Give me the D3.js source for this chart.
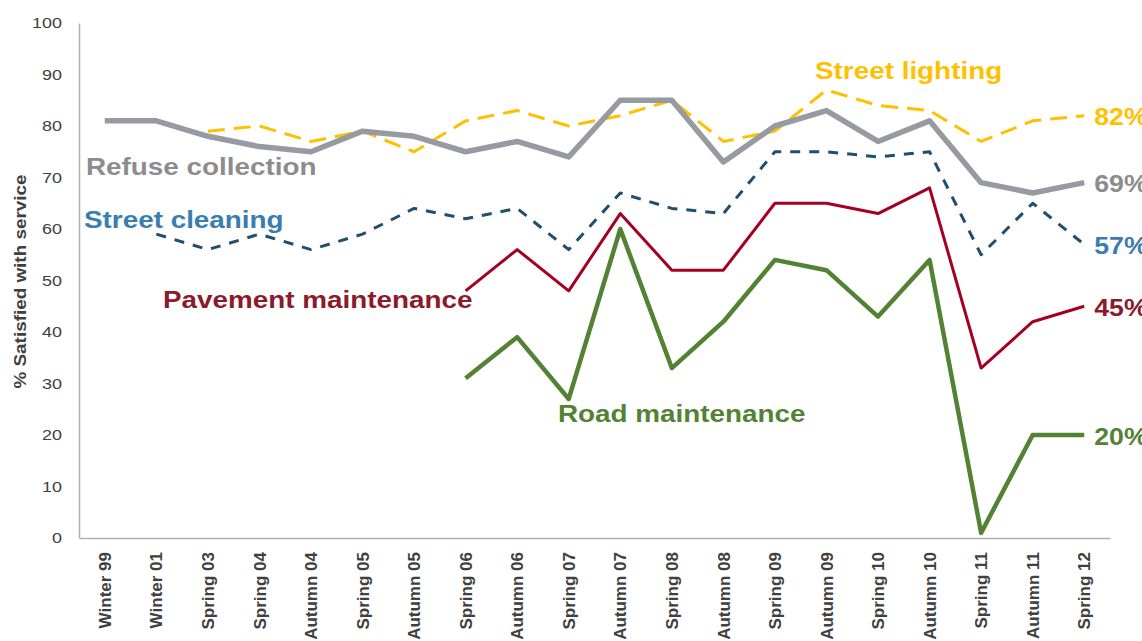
<!DOCTYPE html>
<html>
<head>
<meta charset="utf-8">
<script src="https://cdn.jsdelivr.net/npm/d3@7"></script>
<style>
  body { margin: 0; background: #fff; }
  text { font-family: "Liberation Sans", Arial, sans-serif; }
</style>
</head>
<body>
<div id="chart"></div>
<script>
// categories (survey waves)
const waves = ["Winter 99", "Winter 01", "Spring 03", "Spring 04", "Autumn 04", "Spring 05",
  "Autumn 05", "Spring 06", "Autumn 06", "Spring 07", "Autumn 07", "Spring 08", "Autumn 08",
  "Spring 09", "Autumn 09", "Spring 10", "Autumn 10", "Spring 11", "Autumn 11", "Spring 12"];

// series values, null = not asked
const refuseCollection = [81, 81, 78, 76, 75, 79, 78, 75, 77, 74, 85, 85, 73, 80, 83, 77, 81, 69, 67, 69];
const streetLighting = [null, null, 79, 80, 77, 79, 75, 81, 83, 80, 82, 85, 77, 79, 87, 84, 83, 77, 81, 82];
const streetCleaning = [null, 59, 56, 59, 56, 59, 64, 62, 64, 56, 67, 64, 63, 75, 75, 74, 75, 55, 65, 57];
const pavementMaintenance = [null, null, null, null, null, null, null, 48, 56, 48, 63, 52, 52, 65, 65, 63, 68, 33, 42, 45];
const roadMaintenance = [null, null, null, null, null, null, null, 31, 39, 27, 60, 33, 42, 54, 52, 43, 54, 1, 20, 20];

const yTicks = [0, 10, 20, 30, 40, 50, 60, 70, 80, 90, 100];

const series = [
  { name: "Refuse collection", values: refuseCollection, line: "#959ba1", label: "#8c8c8c", width: 5.5, dash: null, lx: 86, ly: 175 },
  { name: "Street lighting", values: streetLighting, line: "#ffc000", label: "#ffc000", width: 3, dash: "17,9", lx: 815, ly: 79 },
  { name: "Street cleaning", values: streetCleaning, line: "#1f4e6e", label: "#3a7db0", width: 3, dash: "10,9", lx: 84, ly: 228 },
  { name: "Pavement maintenance", values: pavementMaintenance, line: "#a50021", label: "#8b1a2b", width: 3, dash: null, lx: 163, ly: 308 },
  { name: "Road maintenance", values: roadMaintenance, line: "#548235", label: "#548235", width: 4.5, dash: null, lx: 558, ly: 422 }
];

const W = 1142, H = 641;
const margin = { top: 23, right: 32, bottom: 103, left: 79 };
const stretchX = 1.16; // horizontal text in the original is a bit wide

const svg = d3.select("#chart").append("svg")
  .attr("width", W)
  .attr("height", H);

// widen text horizontally to match the original
function widen(sel, k) {
  sel.each(function () {
    const len = this.getComputedTextLength();
    d3.select(this).attr("textLength", len * k).attr("lengthAdjust", "spacingAndGlyphs");
  });
}

const x = d3.scaleBand()
  .domain(waves)
  .range([margin.left, W - margin.right]);

const y = d3.scaleLinear()
  .domain([0, 100])
  .range([H - margin.bottom, margin.top]);

// Y axis
const yAxis = svg.append("g")
  .attr("transform", `translate(${margin.left},0)`)
  .call(d3.axisLeft(y).tickValues(yTicks).tickSize(0).tickPadding(17));
yAxis.select(".domain").attr("stroke", "#b0b0b0").attr("stroke-width", 1.5);
yAxis.selectAll("text")
  .attr("font-size", 15.5)
  .attr("fill", "#404040")
  .style("font-family", "Liberation Sans, Arial, sans-serif")
  .call(widen, stretchX);

// X axis
const xAxis = svg.append("g")
  .attr("transform", `translate(0,${H - margin.bottom})`)
  .call(d3.axisBottom(x).tickSize(0).tickPadding(0));
xAxis.select(".domain").attr("stroke", "#b0b0b0").attr("stroke-width", 1.5);
xAxis.selectAll("text")
  .attr("font-size", 17)
  .attr("font-weight", "bold")
  .attr("fill", "#404040")
  .attr("text-anchor", "end")
  .attr("dy", "0.36em")
  .attr("transform", "translate(0,14) rotate(-90)")
  .attr("x", 0)
  .attr("y", 0)
  .style("font-family", "Liberation Sans, Arial, sans-serif");

// Y axis title
svg.append("text")
  .attr("transform", `translate(26,${(margin.top + H - margin.bottom) / 2 + 1}) rotate(-90)`)
  .attr("text-anchor", "middle")
  .attr("font-size", 16)
  .attr("font-weight", "bold")
  .attr("fill", "#404040")
  .attr("textLength", 214)
  .attr("lengthAdjust", "spacingAndGlyphs")
  .text("% Satisfied with service");

const line = d3.line()
  .defined(d => d != null)
  .x((d, i) => x(waves[i]) + x.bandwidth() / 2)
  .y(d => y(d));

// draw order: back to front
const order = ["Street lighting", "Refuse collection", "Street cleaning", "Pavement maintenance", "Road maintenance"];
order.forEach(n => {
  const s = series.find(d => d.name === n);
  svg.append("path")
    .datum(s.values)
    .attr("fill", "none")
    .attr("stroke", s.line)
    .attr("stroke-width", s.width)
    .attr("stroke-dasharray", s.dash)
    .attr("stroke-linejoin", "round")
    .attr("d", line);
});

// series names
svg.selectAll(".name")
  .data(series)
  .enter().append("text")
  .attr("class", "name")
  .attr("x", d => d.lx)
  .attr("y", d => d.ly)
  .attr("font-size", 24)
  .attr("font-weight", "bold")
  .attr("fill", d => d.label)
  .text(d => d.name)
  .call(widen, stretchX);

// end values
const last = waves.length - 1;
svg.selectAll(".end")
  .data(series)
  .enter().append("text")
  .attr("class", "end")
  .attr("x", x(waves[last]) + x.bandwidth() / 2 + 10)
  .attr("y", d => y(d.values[last]))
  .attr("dy", "0.42em")
  .attr("font-size", 23)
  .attr("font-weight", "bold")
  .attr("fill", d => d.label)
  .text(d => d.values[last] + "%")
  .call(widen, stretchX);
</script>
</body>
</html>
